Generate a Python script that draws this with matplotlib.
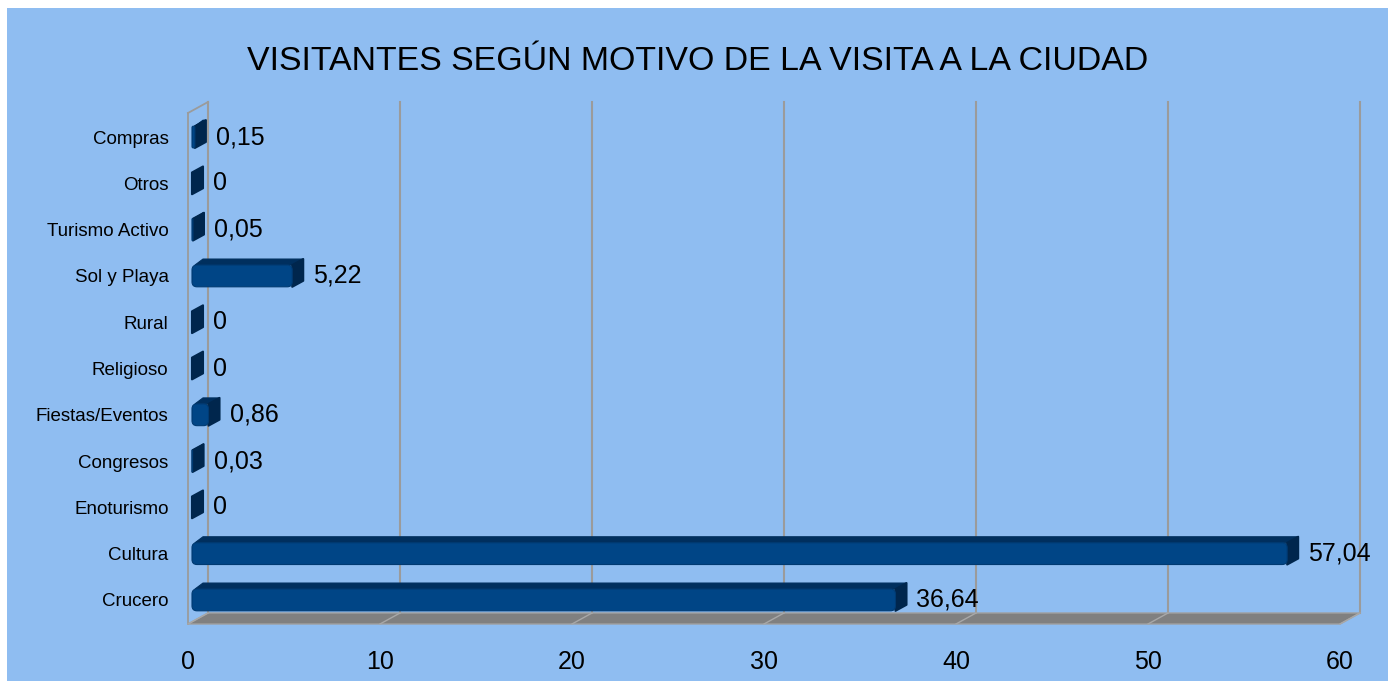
import matplotlib
matplotlib.use("Agg")
import matplotlib.pyplot as plt
from matplotlib.patches import Rectangle, Polygon, FancyBboxPatch
from matplotlib.transforms import IdentityTransform, offset_copy
import numpy as np

plt.rcParams['font.family'] = ['Liberation Sans', 'DejaVu Sans']

# ---- data (bottom to top) ----
categories = ["Crucero", "Cultura", "Enoturismo", "Congresos", "Fiestas/Eventos",
              "Religioso", "Rural", "Sol y Playa", "Turismo Activo", "Otros", "Compras"]
values = [36.64, 57.04, 0, 0.03, 0.86, 0, 0, 5.22, 0.05, 0, 0.15]
xticks = [0, 10, 20, 30, 40, 50, 60]
title = "VISITANTES SEGÚN MOTIVO DE LA VISITA A LA CIUDAD"

W, H = 1395, 681
fig = plt.figure(figsize=(W / 100, H / 100), dpi=100)
fig.patch.set_facecolor("white")
BG = "#8fbdf1"
fig.patches.append(Rectangle((7 / W, 0), (1388 - 7) / W, (H - 8) / H,
                             transform=fig.transFigure, facecolor=BG,
                             edgecolor="none", zorder=-10))

# front plane of the 3D box
ax = fig.add_axes([188 / W, (H - 624) / H, (1340 - 188) / W, (624 - 113) / H])
ax.set_zorder(1)
ax.set_facecolor("none")
ax.set_xlim(0, 60)
ax.set_ylim(-0.52, 10.52)
for s in ax.spines.values():
    s.set_visible(False)

ax.set_xticks(xticks, [str(t) for t in xticks])
ax.set_yticks(range(len(categories)), categories)
ax.tick_params(axis="x", length=0, pad=19, labelsize=18)
ax.tick_params(axis="y", length=0, pad=14, labelsize=13.5)

# depth offsets (pixels)
DX, DY = 20, 11
GRID = "#9b9b9b"
ymin, ymax = ax.get_ylim()
T = ax.transData


def disp(x, y):
    return T.transform((x, y))


# floor
f0 = disp(0, ymin)
f1 = disp(60, ymin)
floor = [f0, f1, f1 + [DX, DY], f0 + [DX, DY]]
ax.add_patch(Polygon(floor, closed=True, transform=IdentityTransform(),
                     facecolor="#808080", edgecolor="#a0a0a0", lw=1.0, zorder=1,
                     clip_on=False))
# floor grid slants and back wall grid lines
for t in xticks:
    p0 = disp(t, ymin)
    p1 = p0 + [DX, DY]
    ax.add_line(plt.Line2D([p0[0], p1[0]], [p0[1], p1[1]], transform=IdentityTransform(),
                           color="#a8a8a8", lw=1.0, zorder=1.5, clip_on=False))
    b0 = disp(t, ymin) + [DX, DY]
    b1 = disp(t, ymax) + [DX, DY]
    ax.add_line(plt.Line2D([b0[0], b1[0]], [b0[1], b1[1]], transform=IdentityTransform(),
                           color=GRID, lw=1.5, zorder=1, clip_on=False))

# left wall
l0 = disp(0, ymin)
l1 = disp(0, ymax)
for a, b in [(l0, l1), (l1, l1 + [DX, DY])]:
    ax.add_line(plt.Line2D([a[0], b[0]], [a[1], b[1]], transform=IdentityTransform(),
                           color=GRID, lw=1.3, zorder=1, clip_on=False))

# bars
BAR_H = 0.47
BX, BY = 11, 6
SHIFT = 4
FRONT = "#004586"
TOP = "#002f5e"
CAP = "#00264d"
for i, v in enumerate(values):
    xs = disp(0, i - BAR_H / 2) + [SHIFT, 0]
    xe = disp(v, i + BAR_H / 2) + [SHIFT, 0]
    x0, yb = xs
    x1, yt = xe
    # top face
    if x1 - x0 > 0.5:
        ax.add_patch(Polygon([(x0 + 3, yt), (x1, yt), (x1 + BX, yt + BY), (x0 + BX, yt + BY)],
                             closed=True, transform=IdentityTransform(), facecolor=TOP,
                             edgecolor=TOP, lw=0.8, joinstyle="round", zorder=3, clip_on=False))
    # end cap
    ax.add_patch(Polygon([(x1, yb), (x1, yt), (x1 + BX, yt + BY), (x1 + BX, yb + BY)],
                         closed=True, transform=IdentityTransform(), facecolor=CAP,
                         edgecolor=CAP, lw=1.5, joinstyle="round", zorder=3.5, clip_on=False))
    # front face
    if x1 - x0 > 0.5:
        ax.add_patch(FancyBboxPatch((x0, yb), x1 - x0, yt - yb,
                                    boxstyle="round,pad=0,rounding_size=%g" % min(5, (x1 - x0) / 2),
                                    transform=IdentityTransform(), facecolor=FRONT,
                                    edgecolor="#003a72", lw=0.8, zorder=4, clip_on=False))
    label = "0" if v == 0 else ("%.2f" % v).replace(".", ",")
    ax.text(v, i, label, transform=offset_copy(T, fig=fig, x=SHIFT + 21, y=0, units="dots"),
            ha="left", va="center", fontsize=18, color="black", zorder=5)

fig.text(0.5, (H - 62) / H, title, ha="center", va="center", fontsize=24.4, color="black")

fig.savefig("out.png", dpi=100, facecolor=fig.get_facecolor())
